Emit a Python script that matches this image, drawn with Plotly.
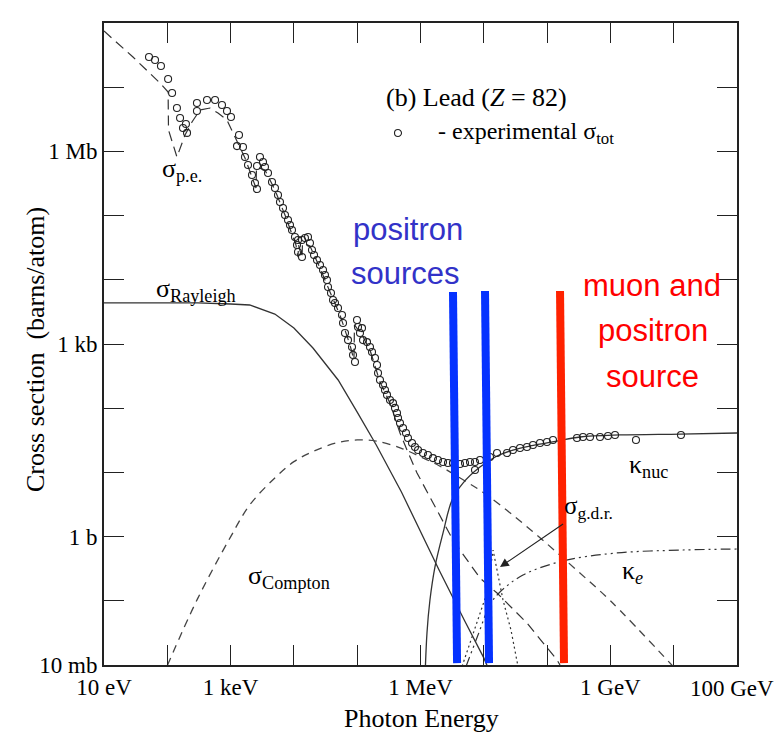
import plotly.graph_objects as go

# ---------------- data (energy in eV, cross section in barns) ----------------
rayleigh_E = [10, 100, 300, 1e3, 2e3, 5e3, 1e4, 2e4, 5e4, 1e5, 2e5, 5e5, 1e6, 2e6, 5e6, 1e7, 2e7]
rayleigh_sigma = [4360, 4360, 4360, 4200, 4050, 2930, 1770, 867, 275, 87, 26.7, 4.95, 1.18, 0.291, 0.0484, 0.0129, 0.0026]

compton_E = [100, 300, 1e3, 2e3, 5e3, 1e4, 2e4, 5e4, 1e5, 2e5, 5e5, 1e6, 2e6, 5e6, 1e7, 3e7, 1e8, 3e8, 1e9, 1e10]
compton_sigma = [0.0098, 0.107, 0.99, 3.1, 8.2, 14.7, 21.2, 29.3, 32, 30.8, 23.7, 17.5, 12.6, 7.4, 4.8, 2.09, 0.77, 0.294, 0.1, 0.0093]

pe_E = [10, 28.7, 76.7, 103, 104.5, 142, 190.5, 245.5, 329, 473, 632, 877, 1175, 1687, 2518, 2565,
        3491, 5023, 7228, 10790, 11610, 11830, 13430, 13680, 17950, 25820, 37150, 53460, 76910,
        88920, 90580, 1.191e5, 1.592e5, 2.291e5, 3.296e5, 4.742e5, 6.124e5, 8.81e5, 1.521e6,
        3.258e6, 4.207e6, 8.71e6, 1.618e7, 4.808e7, 1.432e8, 1.6e8]
pe_sigma = [7.5e7, 2.95e7, 1.16e7, 8.41e6, 2.15e6, 8.18e5, 1.80e6, 2.87e6, 4.42e6, 4.74e6, 3.96e6,
            3.08e6, 1.67e6, 7.89e5, 2.69e5, 5.71e5, 5.13e5, 2.50e5, 1.02e5, 3.48e4, 2.26e4, 3.48e4,
            2.19e4, 3.74e4, 3.36e4, 1.53e4, 6.46e3, 2.83e3, 964, 564, 1.98e3, 1.38e3, 807, 256, 120,
            41.1, 22.3, 9.79, 3.59, 0.885, 0.618, 0.226, 0.132, 0.0451, 0.012, 0.01]

knuc_E = [1.16e6, 1.266e6, 1.41e6, 1.69e6, 2.27e6, 3.15e6, 4.69e6, 8.7e6, 1.62e7, 2.89e7, 5.37e7,
          1.43e8, 3.31e8, 1.42e9, 1.26e10, 1e11]
knuc_sigma = [0.004, 0.0315, 0.103, 0.336, 1.14, 3.7, 6.8, 12.1, 18.0, 22.3, 25.8, 30.8, 35.6, 38.3, 39.6, 41.1]

ke_E = [5.24e6, 8.1e6, 1.25e7, 1.8e7, 4.16e7, 1.78e8, 1.27e9, 1.4e10, 1e11]
ke_sigma = [0.0095, 0.0293, 0.086, 0.137, 0.252, 0.417, 0.556, 0.618, 0.641]

gdr_E = [4.53e6, 7.8e6, 1.12e7, 1.40e7, 2.01e7, 2.69e7, 3.47e7]
gdr_sigma = [0.0095, 0.0451, 0.132, 0.618, 0.103, 0.035, 0.0095]

tot_E = [51.4, 64, 79.4, 103, 119, 142, 159, 177, 205, 197, 294, 294, 424, 568, 731, 877, 1014, 1358,
         1262, 1570, 1687, 1884, 2178, 2427, 2612, 2612, 2911, 3251, 3491, 3899, 4508, 5023, 5610,
         6026, 6730, 7228, 8072, 8670, 9333, 1.04e4, 1.161e4, 1.343e4, 1.496e4, 1.671e4, 1.119e4,
         1.161e4, 1.343e4, 1.795e4, 1.932e4, 2.08e4, 2.317e4, 2.582e4, 2.884e4, 3.097e4, 3.334e4,
         3.459e4, 3.855e4, 4.15e4, 4.457e4, 4.977e4, 5.754e4, 5.97e4, 6.412e4, 7.161e4, 8.279e4,
         8.59e4, 9.226e4, 9.931e4, 1.03e5, 1.107e5, 1.191e5, 1.236e5, 1.429e5, 1.592e5, 1.714e5,
         1.91e5, 2.056e5, 2.133e5, 2.291e5, 2.559e5, 2.748e5, 2.958e5, 3.296e5, 3.681e5, 3.954e5,
         4.256e5, 4.416e5, 4.742e5, 5.296e5, 5.902e5, 6.339e5, 7.345e5, 8.184e5, 9.141e5, 1.094e6,
         1.312e6, 1.574e6, 1.888e6, 2.265e6, 2.716e6, 3.258e6, 4.207e6, 5.047e6, 6.053e6, 7.261e6,
         7.261e6, 8.71e6, 1.253e7, 1.618e7, 2.328e7, 2.891e7, 3.733e7, 4.808e7, 5.984e7, 7.727e7,
         9.954e7, 1.239e8, 2.965e8, 3.69e8, 4.764e8, 6.855e8, 9.162e8, 1.183e9, 2.536e9, 1.303e10]
tot_sigma = [2.95e7, 2.65e7, 2.14e7, 1.34e7, 8.13e6, 4.74e6, 3.31e6, 2.31e6, 1.94e6, 2.67e6, 5.68e6,
             4.26e6, 6.32e6, 6.32e6, 5.28e6, 4.26e6, 3.44e6, 1.80e6, 1.21e6, 1.17e6, 8.18e5, 6.14e5,
             4.29e5, 3.22e5, 2.59e5, 5.93e5, 8.18e5, 6.84e5, 5.71e5, 4.61e5, 3.33e5, 2.69e5, 2.09e5,
             1.63e5, 1.31e5, 1.02e5, 8.53e4, 7.14e4, 5.97e4, 4.65e4, 4.17e4, 4.17e4, 4.48e4, 4.65e4,
             3.48e4, 2.71e4, 2.26e4, 3.74e4, 2.91e4, 2.43e4, 2.03e4, 1.70e4, 1.42e4, 1.19e4, 9.93e3,
             7.73e3, 6.22e3, 4.84e3, 4.36e3, 3.64e3, 2.83e3, 2.12e3, 1.48e3, 1.15e3, 897, 675, 525,
             2.37e3, 1.84e3, 1.48e3, 1.77e3, 1.15e3, 1.07e3, 897, 750, 605, 471, 353, 275, 230, 192,
             161, 134, 120, 101, 84.1, 70.3, 58.7, 49.2, 41.1, 34.4, 28.7, 24.9, 22.3, 20.0, 18.7,
             16.7, 15.6, 14.5, 14.0, 14.0, 13.5, 14.0, 14.5, 14.5, 10.9, 15.6, 17.4, 20.0, 20.0, 22.3,
             24.0, 24.9, 26.7, 28.7, 29.8, 32.0, 34.4, 35.6, 35.6, 35.6, 36.9, 38.3, 32.0, 38.3]

bar_names = ["positron source A", "positron source B", "muon and positron source"]
bar_E_top = [3.26e6, 1.045e7, 1.60e8]
bar_E_bottom = [3.78e6, 1.21e7, 1.85e8]
bar_sigma_top = [6460, 6700, 6700]
bar_sigma_bottom = [0.0107, 0.0107, 0.0107]
bar_colors = ["#0532FF", "#0532FF", "#FF2200"]

# labelled and unlabelled decade ticks
x_tickvals = [1e1, 1e3, 1e6, 1e9]
x_ticktext = ["10 eV", "1 keV", "1 MeV", "1 GeV"]
x_minor_tickvals = [1e2, 1e4, 1e5, 1e7, 1e8, 1e10, 1e11]
x_edge_label = "100 GeV"
y_tickvals = [1e-2, 1e0, 1e3, 1e6]
y_ticktext = ["10 mb", "1 b", "1 kb", "1 Mb"]
y_minor_tickvals = [1e-1, 1e1, 1e2, 1e4, 1e5, 1e7]

# ---------------- figure ----------------
INK = "#222222"
SERIF = "Liberation Serif, Times New Roman, serif"
SANS = "Liberation Sans, Arial, sans-serif"

fig = go.Figure()

fig.add_trace(go.Scatter(x=rayleigh_E, y=rayleigh_sigma, mode="lines",
                         line=dict(color="#333333", width=1.3), name="Rayleigh"))
fig.add_trace(go.Scatter(x=compton_E, y=compton_sigma, mode="lines",
                         line=dict(color="#444444", width=1.3, dash="8px,6px"), name="Compton",
                         line_shape="spline"))
fig.add_trace(go.Scatter(x=pe_E, y=pe_sigma, mode="lines",
                         line=dict(color="#333333", width=1.2, dash="10px,6px"), name="p.e."))
fig.add_trace(go.Scatter(x=knuc_E, y=knuc_sigma, mode="lines",
                         line=dict(color="#333333", width=1.3), name="kappa_nuc", line_shape="spline"))
fig.add_trace(go.Scatter(x=ke_E, y=ke_sigma, mode="lines",
                         line=dict(color="#333333", width=1.2, dash="10px,4px,2px,4px,2px,4px"),
                         name="kappa_e", line_shape="spline"))
fig.add_trace(go.Scatter(x=gdr_E, y=gdr_sigma, mode="lines",
                         line=dict(color="#333333", width=1.2, dash="2px,3px"), name="g.d.r."))
fig.add_trace(go.Scatter(x=tot_E, y=tot_sigma, mode="markers",
                         marker=dict(symbol="circle-open", size=7, color="#222222",
                                     line=dict(width=1.1, color="#222222")),
                         name="experimental"))

for n, et, eb, st, sb, c in zip(bar_names, bar_E_top, bar_E_bottom, bar_sigma_top, bar_sigma_bottom, bar_colors):
    fig.add_trace(go.Scatter(x=[et, eb], y=[st, sb], mode="lines",
                             line=dict(color=c, width=8), name=n))

def P(xpx, ypx):
    return (xpx - 104) / 633.0, (665 - ypx) / 642.0

annotations = []
def label(text, xpx, ypx, size=24, color="black", family=SERIF, xanchor="center", angle=0,
          yanchor="middle"):
    px, py = P(xpx, ypx)
    annotations.append(dict(text=text, x=px, y=py, xref="paper", yref="paper", showarrow=False,
                            xanchor=xanchor, yanchor=yanchor, textangle=angle,
                            font=dict(size=size, color=color, family=family)))

label("(b) Lead (<i>Z</i> = 82)", 476, 98, size=26)
label("- experimental σ<sub>tot</sub>", 436, 133, size=24, xanchor="left")
label("σ<sub>p.e.</sub>", 182, 170, size=26)
label("σ<sub>Rayleigh</sub>", 196, 290, size=26)
label("σ<sub>Compton</sub>", 289, 577, size=26)
label("κ<sub>nuc</sub>", 648, 466, size=26)
label("κ<sub><i>e</i></sub>", 632, 572, size=26)

label("positron", 408, 229, size=31, color="#3232C8", family=SANS)
label("sources", 405, 273, size=31, color="#3232C8", family=SANS)
label("muon and", 652, 285, size=31, color="#FF0000", family=SANS)
label("positron", 653, 330, size=31, color="#FF0000", family=SANS)
label("source", 652, 377, size=31, color="#FF0000", family=SANS)

label(x_edge_label, 732, 688, size=23)
label("Photon Energy", 421, 718, size=26)
label("Cross section  (barns/atom)", 35, 350, size=26, angle=-90)

# g.d.r. label with arrow pointing to the resonance peak
hx, hy = P(500, 567)
annotations.append(dict(text="σ<sub>g.d.r.</sub>", x=hx, y=hy, xref="paper", yref="paper",
                        showarrow=True, ax=88, ay=-60, arrowhead=2, arrowsize=1.6,
                        arrowwidth=1.1, arrowcolor=INK, standoff=0,
                        font=dict(size=25, color="black", family=SERIF)))

cx, cy = P(398, 133)
shapes = [dict(type="circle", xref="paper", yref="paper",
               x0=cx - 3.5 / 633, x1=cx + 3.5 / 633, y0=cy - 3.5 / 642, y1=cy + 3.5 / 642,
               line=dict(color=INK, width=1.1))]

minor_common = dict(ticks="inside", ticklen=20, tickwidth=1.4, tickcolor=INK, showgrid=False)
axis_common = dict(type="log", showgrid=False, zeroline=False, showline=True, linecolor=INK,
                   linewidth=2, mirror="ticks", ticks="inside", ticklen=20, tickwidth=1.4,
                   tickcolor=INK, tickfont=dict(family=SERIF, size=23, color="black"))

fig.update_layout(
    width=777, height=733,
    margin=dict(l=104, r=40, t=23, b=68, autoexpand=False),
    paper_bgcolor="white", plot_bgcolor="white",
    showlegend=False,
    xaxis=dict(range=[1, 11], tickvals=x_tickvals, ticktext=x_ticktext,
               minor=dict(tickvals=x_minor_tickvals, **minor_common), **axis_common),
    yaxis=dict(range=[-2, 8], tickvals=y_tickvals, ticktext=y_ticktext,
               minor=dict(tickvals=y_minor_tickvals, **minor_common), **axis_common),
    annotations=annotations,
    shapes=shapes,
)

fig.write_html("out.html")
